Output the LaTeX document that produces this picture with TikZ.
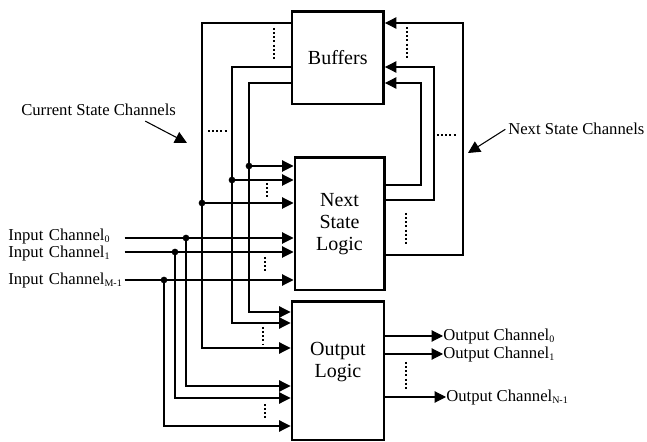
\documentclass[tikz,border=0pt]{standalone}
\usepackage{fontspec}
\setmainfont{Liberation Serif}
\usepackage{tikz}
\usetikzlibrary{arrows.meta, positioning, calc}
\newcommand{\chsub}[1]{\raisebox{-0.3ex}{\fontsize{7.5}{8}\selectfont #1}}

\begin{document}
\begin{tikzpicture}[
  x=0.75pt, y=-0.75pt,
  box/.style={rectangle, draw=black, line width=2.2pt, align=center,
              font={\fontsize{15}{16.5}\selectfont}},
  chan/.style={inner sep=0pt, font={\fontsize{12.5}{14}\selectfont}},
  wire/.style={-{Triangle[length=8.5pt, width=8.5pt]}, line width=0.8pt},
  pointer/.style={-{Triangle[length=9pt, width=9pt]}, line width=0.8pt},
  ellip/.style={line width=1.5pt, dash pattern=on 1.5pt off 1.6pt},
  junction/.style={circle, fill=black, inner sep=0pt, minimum size=5pt},
]
\useasboundingbox (0,0) rectangle (647,442);

% Blocks
\node[box, minimum width=68.6pt, minimum height=69.4pt] (buf) at (337.75,57.75) {Buffers};
\node[box, minimum width=66.8pt, minimum height=99.4pt] (nsl) at (339.5,223.75) {Next\\State\\Logic};
\node[box, minimum width=69pt, minimum height=103.9pt] (ol) at (338,370.75) {Output\\Logic\\\mbox{}};

% Current state channels
\foreach \ys/\xs/\yn/\yo [count=\i] in {23/202/203/348, 67/232/180/323, 83/249/166/312}{
  \coordinate (cj\i) at (\xs,\yn);
  \draw[wire] (buf.west |- 0,\ys) -| (\xs,\yo) -- (ol.west |- 0,\yo);
  \node[junction] at (cj\i) {};
  \draw[wire] (cj\i) -- (nsl.west |- cj\i);
}

% Input channels
\foreach \y/\yt/\x/\yo/\lab [count=\i] in {238/236.5/186/386/0, 252/253.5/175/398/1, 280/280/164/426/{M-1}}{
  \node[chan, anchor=west, text width=87pt, align=left] (in\i) at (8,\yt) {\mbox{Input Channel\chsub{\lab}}};
  \coordinate (ij\i) at (\x,\y);
  \draw[wire] (in\i.east |- ij\i) -- (nsl.west |- ij\i);
  \node[junction] at (ij\i) {};
  \draw[wire] (ij\i) |- (ol.west |- 0,\yo);
}

% Next state channels
\foreach \yn/\x/\yb in {255/463/23, 200/434/67, 185/421/83}{
  \draw[wire] (nsl.east |- 0,\yn) -| (\x,\yb) -- (buf.east |- 0,\yb);
}

% Output channels
\foreach \y/\x/\lab [count=\i] in {336/443/0, 354/443/1, 397/446/{N-1}}{
  \node[chan, anchor=west] (out\i) at (\x,\y) {Output Channel\chsub{\lab}};
  \draw[wire] (ol.east |- out\i.west) -- (out\i.west);
}

% Ellipsis marks
\draw[ellip] (274,28) -- (274,60);
\draw[ellip] (407,27) -- (407,59);
\draw[ellip] (267,183) -- (267,198);
\draw[ellip] (265,257) -- (265,273);
\draw[ellip] (263,327) -- (263,345);
\draw[ellip] (265,404) -- (265,420);
\draw[ellip] (406,213) -- (406,245);
\draw[ellip] (406,362) -- (406,389);
\draw[ellip] (208,131) -- (228,131);
\draw[ellip] (437,135) -- (457,135);

% Labels
\node[chan, anchor=base west] (cur) at (21,116) {Current State Channels};
\coordinate (curtip) at (187,143);
\draw[pointer] ([xshift=35pt, yshift=-3.5pt]cur.south) -- (curtip);

\node[chan, anchor=base west] (nxt) at (508,135) {Next State Channels};
\coordinate (nxttip) at (468,153);
\draw[pointer] ([xshift=-2pt]nxt.west) -- (nxttip);

\end{tikzpicture}
\end{document}
